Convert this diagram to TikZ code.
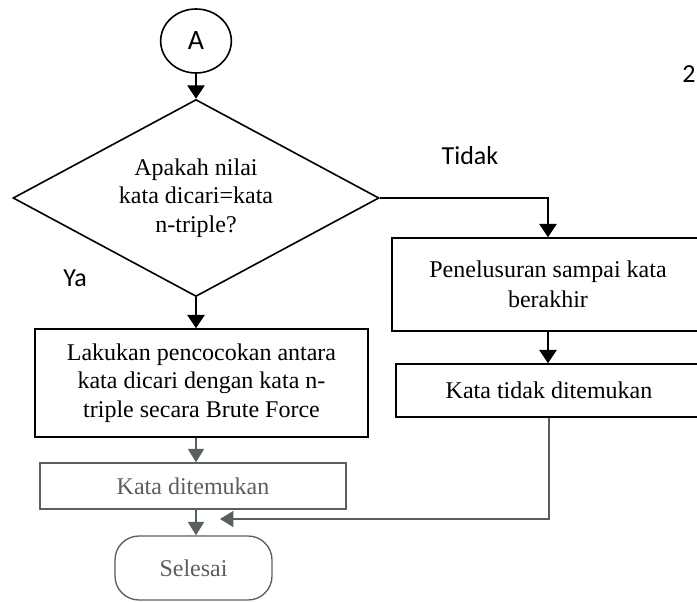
\documentclass[tikz,border=0pt]{standalone}
\usepackage{fontspec}
\setmainfont{Liberation Serif}
\newfontfamily\hurufsans{Carlito}
\usetikzlibrary{shapes.geometric,arrows.meta}
\definecolor{abu}{RGB}{88,96,92}
\tikzset{
  kotak/.style={draw, line width=1.2pt, align=center, inner sep=0pt, font=\fontsize{18}{21.5}\selectfont},
  kotakabu/.style={kotak, draw=abu, text=abu, line width=1pt},
  tulisan/.style={font=\hurufsans\fontsize{19.5}{22}\selectfont},
  panah/.style={line width=1.2pt, -{Triangle[width=13pt,length=10pt]}},
  panahabu/.style={draw=abu, line width=1pt, -{Triangle[width=12pt,length=10pt]}}
}
\begin{document}
\begin{tikzpicture}[x=0.75pt,y=-0.75pt]
  \useasboundingbox (0,0) rectangle (697,602);

  % konektor A dan keputusan
  \node[draw, ellipse, line width=1.2pt, minimum width=53pt, minimum height=48pt, inner sep=0pt, tulisan, font=\hurufsans\fontsize{21}{24}\selectfont] (A) at (196,41) {A};
  \node[kotak, diamond, aspect=1.86, minimum width=274.5pt, minimum height=147.75pt] (cek) at (196,198) {Apakah nilai\\kata dicari=kata\\n-triple?};

  % cabang Ya
  \node[kotak, minimum width=249.75pt, minimum height=81pt] (cocok) at (201.5,383) {Lakukan pencocokan antara\\kata dicari dengan kata n-\\triple secara Brute Force};
  \node[kotakabu, minimum width=229.5pt, minimum height=34.5pt] (temu) at (193,486) {Kata ditemukan};
  \node[kotakabu, rounded corners=18pt, minimum width=117.75pt, minimum height=48pt] (selesai) at (193.5,568) {Selesai};

  % cabang Tidak
  \node[kotak, font=\fontsize{18}{22.5}\selectfont, minimum width=234pt, minimum height=69.75pt] (telusur) at (548,284.5) {Penelusuran sampai kata\\berakhir};
  \node[kotak, minimum width=229.5pt, minimum height=39.75pt] (tidak) at (549,390.5) {Kata tidak ditemukan};
  \coordinate (balik) at (220,519);

  % keterangan
  \node[tulisan] (tdk) at (470,156) {Tidak};
  \node[tulisan] (ya) at (75,278) {Ya};
  \node[tulisan] (hal) at (689,74) {2};

  % panah
  \draw[panah] (A) -- (cek);
  \draw[panah] (cek.south) -- (cek.south |- cocok.north);
  \draw[panahabu] (cek.south |- cocok.south) -- (cek.south |- temu.north);
  \draw[panahabu] (cek.south |- temu.south) -- (cek.south |- selesai.north);
  \draw[panah] (cek.east) -| (telusur.north);
  \draw[panah] (telusur.south) -- (telusur.south |- tidak.north);
  \draw[panahabu] (tidak.south) |- (balik);
\end{tikzpicture}
\end{document}
